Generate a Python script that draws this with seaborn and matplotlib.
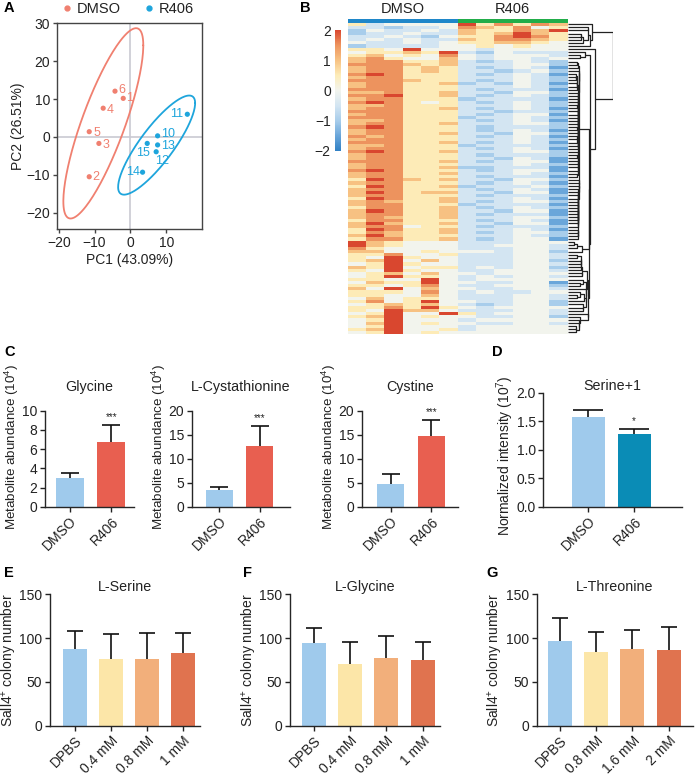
import numpy as np
import pandas as pd
import matplotlib
matplotlib.use("Agg")
import matplotlib.pyplot as plt
import seaborn as sns
from matplotlib.colors import LinearSegmentedColormap, ListedColormap
from matplotlib.lines import Line2D

# ---------------- DATA ----------------
# Panel A (PCA)
pca_samples = ["1", "2", "3", "4", "5", "6", "10", "11", "12", "13", "14", "15"]
pca_group = ["DMSO"] * 6 + ["R406"] * 6
pc1 = [-2.0, -11.5, -8.8, -7.6, -11.5, -4.3, 7.6, 15.9, 7.2, 7.6, 3.4, 4.7]
pc2 = [10.2, -10.5, -1.7, 7.6, 1.4, 12.1, 0.3, 6.0, -3.9, -2.1, -9.3, -1.7]
pc1_label = "PC1 (43.09%)"
pc2_label = "PC2 (26.51%)"

# Panel B (heatmap, z-score levels 0..8 -> -2..2)
heat_groups = ["DMSO"] * 6 + ["R406"] * 6
heat_rows = [
    "534444857576", "332334765745", "243343655768", "233433656865", "334324557875",
    "343433657765", "433434556654", "233334454544", "554844434444", "455658324333",
    "564547434443", "675446434434", "677556323432", "777656333442", "677565323431",
    "677565332342", "787555323431", "677555333432", "777655323432", "677556232431",
    "677555333432", "777555323331", "667556332442", "778556323432", "677555233331",
    "787545323432", "667555333432", "677556323431", "777555332332", "677555323441",
    "777555233432", "667555323431", "677556333442", "787555323332", "677555323431",
    "677556332442", "767555323431", "677555333432", "777556323431", "667555233332",
    "677555323431", "787556333442", "677555323332", "677555332431", "777556323441",
    "677555333432", "677556223331", "787555323441", "677556333432", "677555323331",
    "587656332442", "677555323431", "587556233342", "677555323431", "687566332441",
    "677555323332", "587556333431", "676556323442", "677555233331", "577556323432",
    "687556332441", "677556323331", "676556333442", "577555323431", "686556332441",
    "677455323332", "587556333431", "576556323442", "686555333432", "577556323441",
    "865444333444", "865444334443", "754444333443", "664454443442", "557445333443",
    "548544333443", "568464333442", "458544333443", "658455343442", "548544334443",
    "456464434444", "458554343443", "554484344444", "465584433441", "554574334442",
    "648464433443", "555474343344", "554464333443", "464554333443", "574584433442",
    "456564323442", "557585434444", "548664333443", "458448534443", "568454433442",
    "458444344444", "468454433443", "458444344444", "568445344444", "458454444444",
]

# Panel C
c_titles = ["Glycine", "L-Cystathionine", "Cystine"]
c_cats = ["DMSO", "R406"]
c_means = [[2.95, 6.7], [3.4, 12.7], [4.8, 14.7]]
c_errs = [[0.55, 1.8], [0.75, 4.1], [1.95, 3.4]]
c_sig = ["***", "***", "***"]
c_ymax = [10, 20, 20]
c_yticks = [[0, 2, 4, 6, 8, 10], [0, 5, 10, 15, 20], [0, 5, 10, 15, 20]]

# Panel D
d_title = "Serine+1"
d_cats = ["DMSO", "R406"]
d_means = [1.58, 1.28]
d_errs = [0.11, 0.08]
d_sig = "*"

# Panels E-G
e_titles = ["L-Serine", "L-Glycine", "L-Threonine"]
e_cats = [["DPBS", "0.4 mM", "0.8 mM", "1 mM"],
          ["DPBS", "0.4 mM", "0.8 mM", "1 mM"],
          ["DPBS", "0.8 mM", "1.6 mM", "2 mM"]]
e_means = [[87, 76, 76, 83.5], [94, 70.5, 77.5, 74.5], [96.5, 84.5, 87, 86.5]]
e_errs = [[21.5, 28.5, 30, 22.5], [17, 25.5, 25, 21.5], [26, 23, 22, 26.5]]

# ---------------- STYLE ----------------
sns.set_theme(style="ticks")
plt.rcParams["font.family"] = ["Liberation Sans", "DejaVu Sans"]
plt.rcParams["mathtext.fontset"] = "custom"
plt.rcParams["mathtext.rm"] = "Liberation Sans"
plt.rcParams["mathtext.it"] = "Liberation Sans:italic"
plt.rcParams["mathtext.bf"] = "Liberation Sans:bold"
plt.rcParams["axes.linewidth"] = 1.0
plt.rcParams["xtick.major.width"] = 1.0
plt.rcParams["ytick.major.width"] = 1.0
plt.rcParams["xtick.major.size"] = 3.5
plt.rcParams["ytick.major.size"] = 3.5
plt.rcParams["xtick.color"] = "#222222"
plt.rcParams["ytick.color"] = "#222222"
plt.rcParams["text.color"] = "#222222"
plt.rcParams["axes.labelcolor"] = "#222222"

FS = 10
C_DMSO_PCA = "#f08070"
C_R406_PCA = "#1ea5dc"
C_LBLUE = "#9fcaec"
C_RED = "#e85f50"
C_TEAL = "#0a8cb6"
E_COLORS = ["#9fcaec", "#fce6a8", "#f2af7b", "#e0734f"]

W, H = 696, 776
fig = plt.figure(figsize=(W / 100, H / 100), dpi=100)


def add_ax(l, t, r, b):
    return fig.add_axes([l / W, 1 - b / H, (r - l) / W, (b - t) / H])


def panel_letter(x, y, s):
    fig.text(x / W, 1 - y / H, s, fontsize=10.5, fontweight="bold", ha="left", va="center", color="black")


# ---------------- PANEL A ----------------
def cov_trob(X, nu=5, maxit=25, tol=0.01):
    n, p = X.shape
    wt = np.ones(n)
    loc = X.mean(0)
    w = np.sqrt(wt)
    Xc = X - loc
    for _ in range(maxit):
        w0 = w
        Xc = X - loc
        sw = np.sqrt(w / w.sum())
        _, d, Vt = np.linalg.svd(sw[:, None] * Xc, full_matrices=False)
        wX = Xc @ Vt.T @ np.diag(1 / d)
        Q = (wX ** 2).sum(1)
        w = wt * (nu + p) / (nu + Q)
        loc = (w[:, None] * X).sum(0) / w.sum()
        if np.all(np.abs(w - w0) < tol):
            break
    A = np.sqrt(w)[:, None] * Xc
    return loc, A.T @ A / wt.sum()


pca_df = pd.DataFrame({"PC1": pc1, "PC2": pc2, "group": pca_group, "sample": pca_samples})
axA = add_ax(57, 23, 202, 229)
axA.axvline(0, color="#c9c9d2", lw=1.2, zorder=0)
axA.axhline(0, color="#c9c9d2", lw=1.2, zorder=0)
pal_pca = {"DMSO": C_DMSO_PCA, "R406": C_R406_PCA}
sns.scatterplot(data=pca_df, x="PC1", y="PC2", hue="group", palette=pal_pca, s=14,
                edgecolor="none", legend=False, ax=axA, zorder=3)
F95 = 5.786135  # qf(0.95, 2, 5)
radius = np.sqrt(2 * F95)
theta = np.linspace(0, 2 * np.pi, 200)
circle = np.column_stack([np.cos(theta), np.sin(theta)])
for g, col in pal_pca.items():
    sub = pca_df[pca_df.group == g][["PC1", "PC2"]].to_numpy()
    ctr, cov = cov_trob(sub)
    R = np.linalg.cholesky(cov).T
    ell = ctr + radius * (circle @ R)
    axA.plot(ell[:, 0], ell[:, 1], color=col, lw=1.3, zorder=2)

label_offsets = {"1": (3, 0, "left"), "2": (3, 0, "left"), "3": (4, -2, "left"), "4": (4, -2, "left"),
                 "5": (4, -1, "left"), "6": (3, 1, "left"), "10": (3, 2, "left"), "11": (-4, 0, "right"),
                 "12": (-1, -9, "left"), "13": (3, -1, "left"), "14": (-3, 0, "right"), "15": (3, -10, "right")}
for _, r in pca_df.iterrows():
    dx, dy, ha = label_offsets[r["sample"]]
    axA.annotate(r["sample"], (r["PC1"], r["PC2"]), xytext=(dx, dy), textcoords="offset pixels",
                 ha=ha, va="center", fontsize=9, color=pal_pca[r["group"]])
axA.set_xlim(-20.5, 20)
axA.set_ylim(-24.3, 30.1)
axA.set_xticks([-20, -10, 0, 10])
axA.set_yticks([-20, -10, 0, 10, 20, 30])
for s in axA.spines.values():
    s.set_color("#444444")
    s.set_linewidth(1.0)
axA.tick_params(labelsize=FS, length=3, color="#444444", pad=2)
axA.set_xlabel(pc1_label, fontsize=FS, labelpad=2)
axA.set_ylabel(pc2_label, fontsize=FS, labelpad=1)
handles = [Line2D([], [], marker="o", ls="", color=pal_pca[g], markersize=3.5, label=g) for g in pal_pca]
axA.legend(handles=handles, loc="lower center", bbox_to_anchor=(0.48, 0.99), ncol=2, frameon=False,
           fontsize=FS + 0.5, handletextpad=0.2, columnspacing=1.4, borderaxespad=0.2, handlelength=1.0)

# ---------------- PANEL B ----------------
heat = np.array([[(int(ch) - 4) / 2 for ch in row] for row in heat_rows])
cmap = LinearSegmentedColormap.from_list(
    "hm", [(0.0, "#3080c4"), (0.125, "#6aa6da"), (0.25, "#a8cdeb"), (0.375, "#d3e5f2"),
           (0.5, "#f2f4ee"), (0.625, "#fdecb8"), (0.75, "#f7c283"), (0.875, "#ee955f"), (1.0, "#d9472f")])
axH = add_ax(347.7, 22.7, 567.7, 334)
cax = add_ax(335, 30, 341, 151)
sns.heatmap(pd.DataFrame(heat), cmap=cmap, vmin=-2, vmax=2, ax=axH, cbar_ax=cax,
            xticklabels=False, yticklabels=False, cbar_kws={"ticks": [-2, -1, 0, 1, 2]})
cax.yaxis.set_ticks_position("left")
cax.tick_params(length=0, labelsize=FS, pad=3)
for s in cax.spines.values():
    s.set_visible(False)
cbar = axH.collections[0].colorbar
if cbar is not None:
    cbar.outline.set_visible(False)

axG = add_ax(347.7, 19, 567.7, 22.7)
grp_codes = np.array([[0 if g == "DMSO" else 1 for g in heat_groups]])
sns.heatmap(grp_codes, cmap=ListedColormap(["#1f87c9", "#22ad4a"]), cbar=False, ax=axG,
            xticklabels=False, yticklabels=False)
for gname in ["DMSO", "R406"]:
    idx = [i for i, g in enumerate(heat_groups) if g == gname]
    axG.annotate(gname, (np.mean(idx) + 0.5, 0), xytext=(0, 10), textcoords="offset pixels",
                 ha="center", va="center", fontsize=FS + 0.5, annotation_clip=False)

# dendrogram (adjacency-constrained average linkage on rows)
nrow = heat.shape[0]
Dm = np.sqrt(((heat[:, None, :] - heat[None, :, :]) ** 2).sum(-1))
clusters = [{"rows": [i], "y": i + 0.5, "h": 0.0} for i in range(nrow)]
links = []
while len(clusters) > 1:
    dists = [Dm[np.ix_(clusters[k]["rows"], clusters[k + 1]["rows"])].mean() for k in range(len(clusters) - 1)]
    k = int(np.argmin(dists))
    a, b = clusters[k], clusters[k + 1]
    h = max(dists[k], a["h"], b["h"])
    links.append((a["y"], a["h"], b["y"], b["h"], h))
    clusters[k:k + 2] = [{"rows": a["rows"] + b["rows"], "y": (a["y"] + b["y"]) / 2, "h": h}]
axD = add_ax(567.7, 22.7, 613, 334)
for ya, ha_, yb, hb, h in links:
    axD.plot([ha_, h, h, hb], [ya, ya, yb, yb], color="#222222", lw=0.9, solid_capstyle="butt")
axD.set_ylim(nrow, 0)
axD.set_xlim(0, links[-1][4] * 1.01)
axD.axis("off")


# ---------------- BAR HELPERS ----------------
def bar_panel(ax, cats, means, errs, colors, ymax, yticks, xlim, capsize, width, sig=None, title=None,
              title_pad=0, ylabel=None, label_y=0.5, label_fs=FS):
    df = pd.DataFrame({"cat": cats, "val": means})
    sns.barplot(data=df, x="cat", y="val", hue="cat", palette=dict(zip(cats, colors)), width=width,
                saturation=1, legend=False, ax=ax, errorbar=None, linewidth=0, zorder=2)
    xs = np.arange(len(cats))
    _, caps, _ = ax.errorbar(xs, means, yerr=[np.zeros(len(cats)), errs], fmt="none", ecolor="#111111",
                             elinewidth=1.2, capsize=capsize, capthick=1.2, zorder=1)
    caps[0].set_visible(False)
    if sig:
        for x, m, e, s in zip(xs, means, errs, sig):
            if s:
                ax.annotate(s, (x, m + e), xytext=(0, 2), textcoords="offset points", ha="center",
                            va="bottom", fontsize=7)
    ax.set_ylim(0, ymax)
    ax.set_yticks(yticks)
    ax.set_xlim(*xlim)
    sns.despine(ax=ax)
    ax.tick_params(labelsize=FS, pad=2, length=3.5)
    ax.set_xticks(xs)
    ax.set_xticklabels(cats, rotation=45, ha="right", rotation_mode="anchor", fontsize=FS)
    ax.set_xlabel("")
    if ylabel:
        ax.set_ylabel(ylabel, fontsize=label_fs, labelpad=0.5)
        ax.yaxis.label.set_y(label_y)
    else:
        ax.set_ylabel("")
    if title:
        ax.set_title(title, fontsize=FS + 0.3, pad=title_pad)


# ---------------- PANEL C ----------------
c_boxes = [(45, 134), (192, 290), (362, 458)]
c_xlims = [(-0.6, 1.55), (-0.67, 1.75), (-0.7, 1.65)]
for i in range(3):
    l, r = c_boxes[i]
    ax = add_ax(l, 410.7, r, 506.7)
    bar_panel(ax, c_cats, c_means[i], c_errs[i], [C_LBLUE, C_RED], c_ymax[i], c_yticks[i], c_xlims[i],
              capsize=6.7, width=0.67, sig=["", c_sig[i]], title=c_titles[i], title_pad=14,
              ylabel="Metabolite abundance (10$^4$)", label_y=0.62, label_fs=9.6)

# ---------------- PANEL D ----------------
axDD = add_ax(543.3, 392.7, 682, 506.7)
bar_panel(axDD, d_cats, d_means, d_errs, [C_LBLUE, C_TEAL], 2.0, [0.0, 0.5, 1.0, 1.5, 2.0],
          (-0.98, 2.04), capsize=10.5, width=0.72, sig=["", d_sig], title=d_title, title_pad=2,
          ylabel="Normalized intensity (10$^7$)", label_y=0.45)
axDD.set_yticklabels(["0.0", "0.5", "1.0", "1.5", "2.0"])

# ---------------- PANELS E-G ----------------
e_boxes = [(50, 200), (290, 440), (536.7, 693.3)]
e_xlims = [(-0.68, 3.47), (-0.66, 3.48), (-0.64, 3.68)]
for i in range(3):
    l, r = e_boxes[i]
    ax = add_ax(l, 594.3, r, 725.7)
    bar_panel(ax, e_cats[i], e_means[i], e_errs[i], E_COLORS, 150, [0, 50, 100, 150], e_xlims[i],
              capsize=5.8, width=0.665, title=e_titles[i], title_pad=1,
              ylabel="Sall4$^{+}$ colony number")

# ---------------- LETTERS ----------------
panel_letter(4, 8, "A")
panel_letter(300, 8, "B")
panel_letter(4, 352, "C")
panel_letter(492, 352, "D")
panel_letter(4, 573, "E")
panel_letter(243, 573, "F")
panel_letter(486, 573, "G")

fig.savefig("out.png", dpi=100)
